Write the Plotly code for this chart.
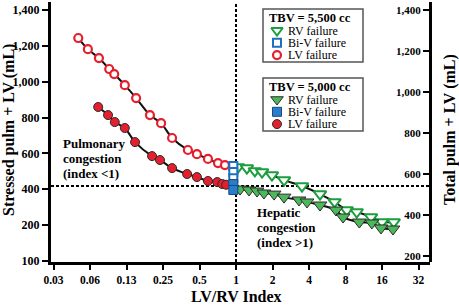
import plotly.graph_objects as go

# ---------------- data ----------------
lv5500_x = [0.050, 0.060, 0.074, 0.090, 0.099, 0.121, 0.150, 0.195, 0.241, 0.297, 0.401, 0.476, 0.587, 0.71, 0.81]
lv5500_y = [1244, 1182, 1132, 1071, 1043, 981, 909, 814, 769, 686, 619, 596, 569, 546, 535]

lv5000_x = [0.073, 0.088, 0.100, 0.121, 0.147, 0.203, 0.236, 0.297, 0.395, 0.476, 0.587, 0.70, 0.77, 0.83]
lv5000_y = [859, 814, 775, 742, 663, 585, 563, 518, 485, 468, 446, 440, 429, 425]

biv5500_x = [0.95, 0.95, 0.95]
biv5500_y = [530, 496, 462]
biv5000_x = [0.95, 0.95]
biv5000_y = [429, 396]

rv5500_x = [1.04, 1.23, 1.43, 1.64, 1.98, 2.49, 3.5, 4.93, 6.5, 8.2, 9.9, 13.0, 16.0, 20.0]
rv5500_y = [524, 518, 502, 496, 479, 451, 418, 373, 329, 284, 273, 245, 217, 217]

rv5000_x = [1.08, 1.28, 1.49, 1.70, 2.06, 2.49, 3.31, 3.85, 4.93, 6.68, 7.64, 10.4, 13.2, 15.7, 19.7]
rv5000_y = [401, 396, 390, 379, 373, 356, 340, 329, 312, 284, 245, 217, 212, 184, 178]

x_tickvals = [1/32, 1/16, 1/8, 1/4, 1/2, 1, 2, 4, 8, 16, 32]
x_ticktext = ["0.03", "0.06", "0.13", "0.25", "0.5", "1", "2", "4", "8", "16", "32"]
yl_tickvals = [0, 200, 400, 600, 800, 1000, 1200, 1400]
yl_ticktext = ["100", "200", "400", "600", "800", "1,000", "1,200", "1,400"]
yr_tickvals = [200, 400, 600, 800, 1000, 1200, 1400]
yr_ticktext = ["200", "400", "600", "800", "1,000", "1,200", "1,400"]

threshold_y = 418      # horizontal dashed reference
index_one = 1          # vertical dashed reference

# ---------------- styling ----------------
W, H = 459, 305
ML, MR, MT, MB = 51, 29, 2, 43
PW, PH = W - ML - MR, H - MT - MB
SERIF = "Liberation Serif"

RED = "#e5202e"
GREEN_O = "#1c9e3e"
GREEN_F = "#4db85a"
BLUE_O = "#1f6fc0"
BLUE_F = "#2a7dc9"
DARK = "#2b2b2b"

def px(x):
    return (x - ML) / PW

def py(y):
    return (H - MB - y) / PH

styles = {
    "rv5500": dict(symbol="triangle-down", size=11, color="white", line=dict(color=GREEN_O, width=2)),
    "biv5500": dict(symbol="square", size=8, color="white", line=dict(color=BLUE_O, width=2)),
    "lv5500": dict(symbol="circle", size=8, color="white", line=dict(color=RED, width=2.2)),
    "rv5000": dict(symbol="triangle-down", size=12, color=GREEN_F, line=dict(color=DARK, width=1)),
    "biv5000": dict(symbol="square", size=9, color=BLUE_F, line=dict(color="#174a80", width=1)),
    "lv5000": dict(symbol="circle", size=9, color=RED, line=dict(color=DARK, width=1)),
}

fig = go.Figure()

# fitted curves
fig.add_trace(go.Scatter(x=lv5500_x + rv5500_x, y=lv5500_y + rv5500_y, mode="lines",
                         line=dict(color="#111", width=2, shape="spline", smoothing=0.8),
                         hoverinfo="skip", showlegend=False))
fig.add_trace(go.Scatter(x=lv5000_x + rv5000_x, y=lv5000_y + rv5000_y, mode="lines",
                         line=dict(color="#111", width=2, shape="spline", smoothing=0.8),
                         hoverinfo="skip", showlegend=False))

for xs, ys, key in [(lv5500_x, lv5500_y, "lv5500"), (lv5000_x, lv5000_y, "lv5000"),
                    (rv5500_x, rv5500_y, "rv5500"), (rv5000_x, rv5000_y, "rv5000"),
                    (biv5500_x, biv5500_y, "biv5500"), (biv5000_x, biv5000_y, "biv5000")]:
    fig.add_trace(go.Scatter(x=xs, y=ys, mode="markers", marker=styles[key], showlegend=False))

# dummy trace so the right axis is rendered
fig.add_trace(go.Scatter(x=[None], y=[None], yaxis="y2", showlegend=False))

# ---------------- legends (drawn manually, pixel coords on hidden axes) ----------------
boxes = [
    (9, "TBV = 5,500 cc", ["rv5500", "biv5500", "lv5500"]),
    (78, "TBV = 5,000 cc", ["rv5000", "biv5000", "lv5000"]),
]
labels = ["RV failure", "Bi-V failure", "LV failure"]
shapes = []
annotations = []
for top, title, keys in boxes:
    shapes.append(dict(type="rect", xref="paper", yref="paper",
                       x0=px(263), x1=px(363), y0=py(top), y1=py(top + 53),
                       line=dict(color="#555", width=1.5), fillcolor="white", layer="below"))
    annotations.append(dict(xref="paper", yref="paper", x=px(267), y=py(top + 9), text=title,
                            showarrow=False, xanchor="left", yanchor="middle",
                            font=dict(family=SERIF, size=12.5, color="black", weight="bold")))
    for i, (k, lab) in enumerate(zip(keys, labels)):
        yy = top + 21.5 + i * 12.3
        annotations.append(dict(xref="paper", yref="paper", x=px(286), y=py(yy), text=lab,
                                showarrow=False, xanchor="left", yanchor="middle",
                                font=dict(family=SERIF, size=12, color="black")))
        st = dict(styles[k])
        st["size"] = st["size"] - 1 if "triangle" in st["symbol"] else st["size"]
        fig.add_trace(go.Scatter(x=[277], y=[yy], mode="markers", marker=st,
                                 xaxis="x2", yaxis="y3", showlegend=False, hoverinfo="skip"))

# text annotations
def txt(x, y, s, size=13, anchor="left", angle=0):
    annotations.append(dict(xref="paper", yref="paper", x=px(x), y=py(y), text=s, showarrow=False,
                            xanchor=anchor, yanchor="middle", textangle=angle,
                            font=dict(family=SERIF, size=size, color="black", weight="bold")))

txt(61, 143, "Pulmonary")
txt(61, 158, "congestion")
txt(61, 173, "(index <1)")
txt(255, 212, "Hepatic")
txt(255, 227, "congestion")
txt(255, 242, "(index >1)")
txt(236, 296, "LV/RV Index", size=16, anchor="center")
txt(9, 130, "Stressed pulm + LV (mL)", size=16, anchor="center", angle=-90)
txt(450, 130, "Total pulm + LV (mL)", size=16, anchor="center", angle=-90)

# dashed reference lines
shapes.append(dict(type="line", xref="paper", yref="y", x0=0, x1=1, y0=threshold_y, y1=threshold_y,
                   line=dict(color="black", width=2, dash="3px,2px"), layer="below"))
shapes.append(dict(type="line", xref="x", yref="paper", x0=index_one, x1=index_one, y0=0, y1=1,
                   line=dict(color="black", width=2, dash="3px,2px"), layer="below"))

tickfont = dict(family=SERIF, size=12, color="black", weight="bold")

fig.update_layout(
    width=W, height=H,
    margin=dict(l=ML, r=MR, t=MT, b=MB, pad=0),
    paper_bgcolor="white", plot_bgcolor="white",
    showlegend=False,
    xaxis=dict(type="log", range=[-1.526, 1.600], tickvals=x_tickvals, ticktext=x_ticktext,
               ticks="outside", ticklen=5, tickwidth=2, tickcolor="black",
               showline=True, linewidth=3, linecolor="black", showgrid=False, zeroline=False,
               tickfont=dict(family=SERIF, size=11.5, color="black", weight="bold")),
    yaxis=dict(range=[-6, 1445], tickvals=yl_tickvals, ticktext=yl_ticktext,
               ticks="outside", ticklen=6, tickwidth=2, tickcolor="black",
               showline=True, linewidth=3, linecolor="black", showgrid=False, zeroline=False,
               tickfont=tickfont),
    # right-hand scale: a "left-sided" axis pinned at the right edge so ticks and labels point inward
    yaxis2=dict(overlaying="y", side="left", anchor="free", position=1.0,
                range=[171, 1439], tickvals=yr_tickvals,
                ticktext=yr_ticktext, ticks="outside", ticklen=6, tickwidth=2, tickcolor="black",
                showline=True, linewidth=3, linecolor="black", showgrid=False, zeroline=False,
                tickfont=dict(family=SERIF, size=11, color="black", weight="bold")),
    xaxis2=dict(overlaying="x", range=[ML, ML + PW], visible=False, fixedrange=True),
    yaxis3=dict(overlaying="y", anchor="x2", range=[MT + PH, MT], visible=False, fixedrange=True),
    shapes=shapes,
    annotations=annotations,
)

fig.write_html("out.html", config={"displayModeBar": False},
               post_script="document.body.style.margin='0';document.body.style.overflow='hidden';")
